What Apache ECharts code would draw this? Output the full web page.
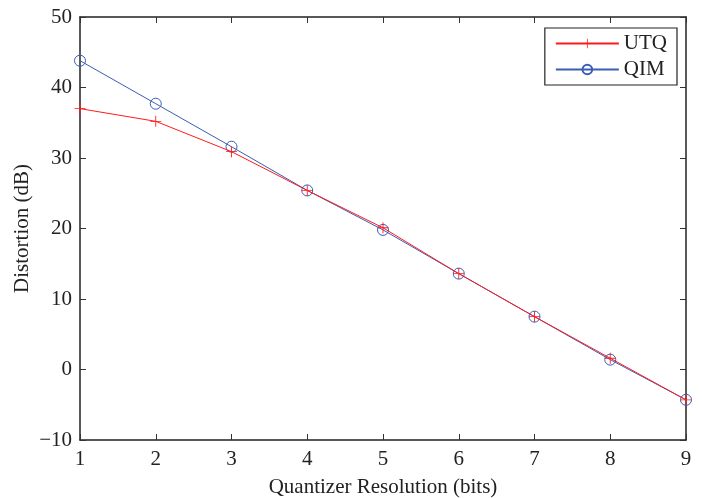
<!DOCTYPE html>
<html><head><meta charset="utf-8">
<script src="https://cdn.jsdelivr.net/npm/echarts@6/dist/echarts.min.js"></script>
<style>html,body{margin:0;padding:0;background:#fff}#c{width:702px;height:498px}</style>
</head><body><div id="c"></div>
<script>
const bits = [1, 2, 3, 4, 5, 6, 7, 8, 9];
const utq = [37.0, 35.2, 30.9, 25.4, 20.1, 13.6, 7.5, 1.6, -4.3];
const qim = [43.8, 37.7, 31.6, 25.4, 19.8, 13.6, 7.5, 1.4, -4.3];
const seriesNames = ['UTQ', 'QIM'];

const font = 'Liberation Serif';
const fs = 21;
const plus = 'path://M0 4.6H10V5.4H0Z M4.6 0H5.4V10H4.6Z';
const fmtMinus = v => String(v).replace('-', '\u2212');
const chart = echarts.init(document.getElementById('c'));
const baseX = {
  type: 'value', min: 1, max: 9, interval: 1,
  axisLine: {onZero: false, lineStyle: {color: '#222', width: 1.5}},
  axisTick: {inside: true, length: 6, lineStyle: {color: '#333'}},
  splitLine: {show: false}
};
const baseY = {
  type: 'value', min: -10, max: 50, interval: 10,
  axisLine: {onZero: false, lineStyle: {color: '#222', width: 1.5}},
  axisTick: {inside: true, length: 6, lineStyle: {color: '#333'}},
  splitLine: {show: false}
};
chart.setOption({
  animation: false,
  backgroundColor: '#fff',
  textStyle: {fontFamily: font},
  grid: {left: 80, right: 16, top: 17, bottom: 58, containLabel: false, outerBoundsMode: 'none'},
  legend: {
    data: seriesNames,
    orient: 'vertical',
    right: 25, top: 28,
    itemWidth: 63, itemHeight: 12, itemGap: 5,
    padding: [5, 10, 5, 10],
    borderColor: '#222', borderWidth: 1.2,
    backgroundColor: '#fff',
    textStyle: {fontFamily: font, fontSize: fs, color: '#222'}
  },
  xAxis: [
    Object.assign({}, baseX, {
      position: 'bottom',
      name: 'Quantizer Resolution (bits)', nameLocation: 'middle', nameGap: 37,
      nameTextStyle: {fontFamily: font, fontSize: fs, color: '#222'},
      axisLabel: {fontFamily: font, fontSize: fs, color: '#222', margin: 9}
    }),
    Object.assign({}, baseX, {position: 'top', axisLabel: {show: false}})
  ],
  yAxis: [
    Object.assign({}, baseY, {
      position: 'left',
      name: 'Distortion (dB)', nameLocation: 'middle', nameGap: 47, nameMoveOverlap: false,
      nameTextStyle: {fontFamily: font, fontSize: fs, color: '#222'},
      axisLabel: {fontFamily: font, fontSize: fs, color: '#222', margin: 8, formatter: fmtMinus}
    }),
    Object.assign({}, baseY, {position: 'right', axisLabel: {show: false}})
  ],
  series: [
    {
      name: seriesNames[0], type: 'line',
      data: bits.map((b, i) => [b, utq[i]]),
      symbol: plus, symbolSize: 11, showAllSymbol: true,
      lineStyle: {color: '#ff1a1a', width: 1},
      itemStyle: {color: '#ff1a1a'},
      z: 3
    },
    {
      name: seriesNames[1], type: 'line',
      data: bits.map((b, i) => [b, qim[i]]),
      symbol: 'circle', symbolSize: 11, showAllSymbol: true,
      lineStyle: {color: '#3a5db5', width: 1},
      itemStyle: {color: 'rgba(255,255,255,0)', borderColor: '#3a5db5', borderWidth: 1},
      z: 2
    }
  ]
});
</script></body></html>
